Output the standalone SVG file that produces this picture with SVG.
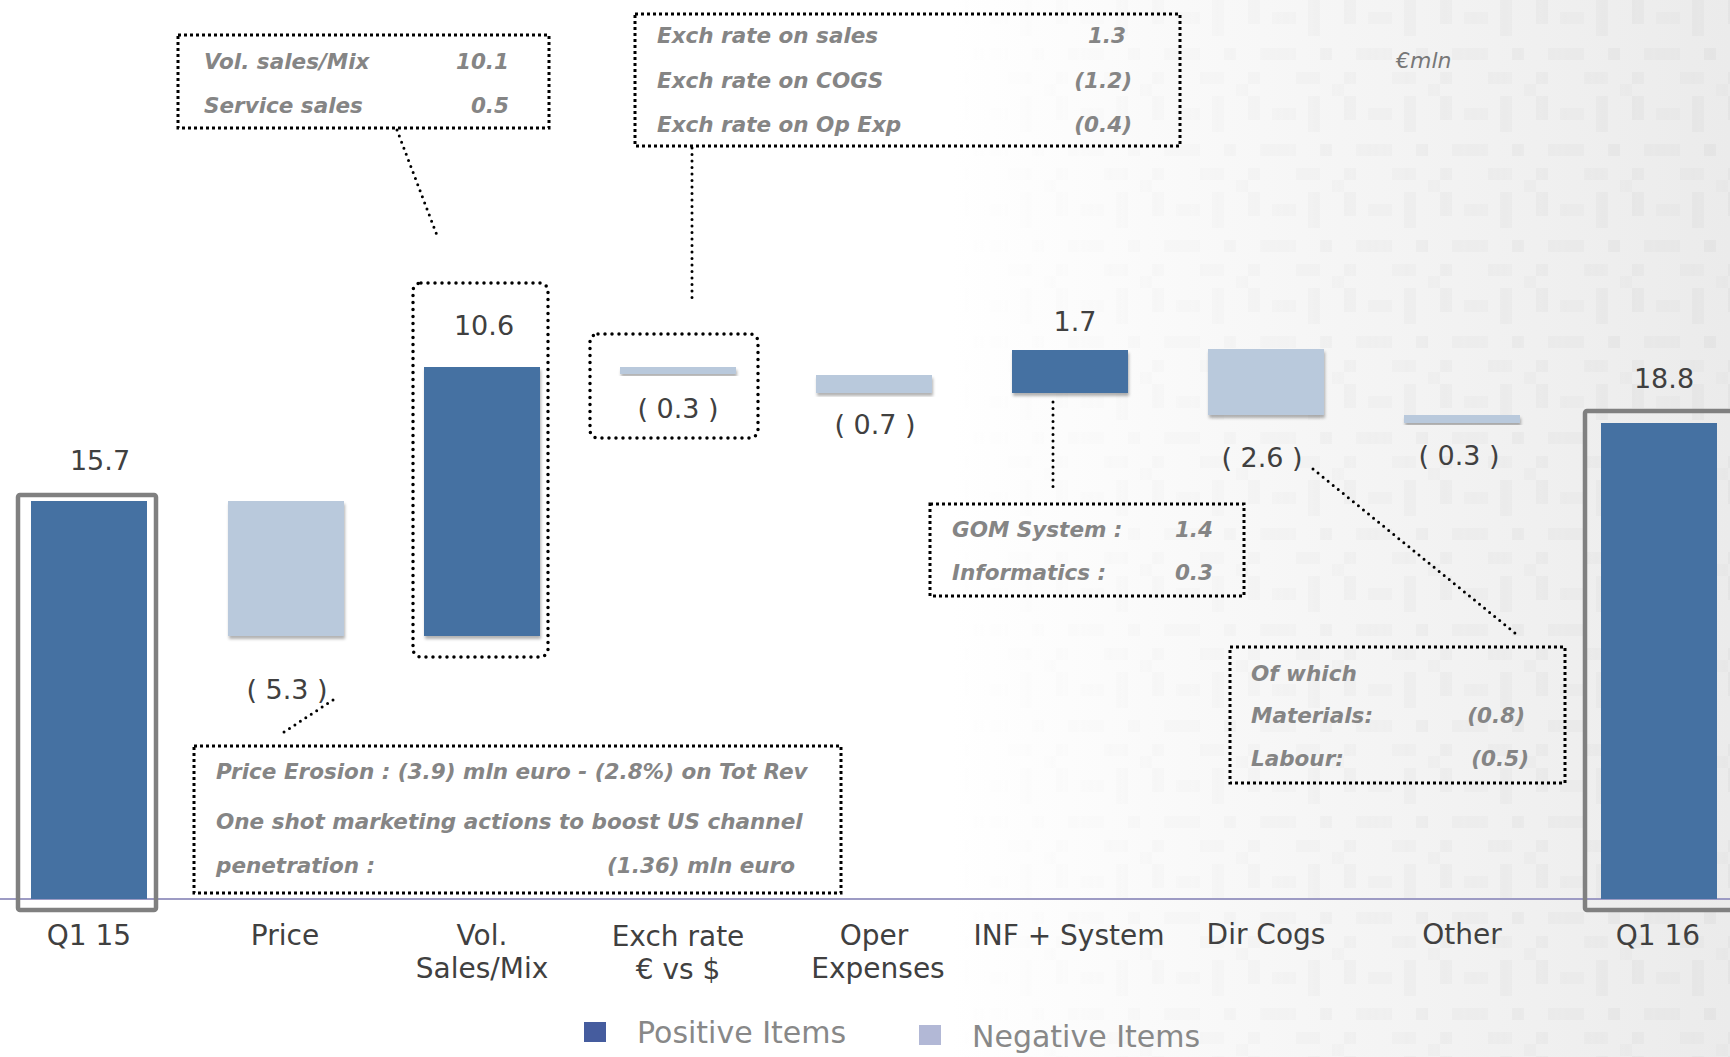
<svg xmlns="http://www.w3.org/2000/svg" width="1730" height="1057" viewBox="0 0 1730 1057">
<style>
.val{font-family:"DejaVu Sans",sans-serif;font-size:27px;fill:#404040;text-anchor:middle}
.cat{font-family:"DejaVu Sans",sans-serif;font-size:28px;fill:#404040;text-anchor:middle}
.note{font-family:"DejaVu Sans",sans-serif;font-size:21.5px;font-style:oblique;font-weight:bold;fill:#858585}
.end{text-anchor:end}
.leg{font-family:"DejaVu Sans",sans-serif;font-size:30px;fill:#888888}
.pos{fill:#4571A2}
.neg{fill:#B9C9DC}
.frame{fill:none;stroke:#808080;stroke-width:4.5}
.sqbox{fill:none;stroke:#000;stroke-width:3;stroke-dasharray:3 3}
.rdbox{fill:none;stroke:#000;stroke-width:3.5;stroke-dasharray:0 7;stroke-linecap:round}
.conn{fill:none;stroke:#000;stroke-width:3;stroke-dasharray:0 6.5;stroke-linecap:round}
</style>
<defs>
<linearGradient id="bg" x1="0" y1="0" x2="1" y2="0">
<stop offset="0" stop-color="#ffffff"/>
<stop offset="0.55" stop-color="#ffffff"/>
<stop offset="1" stop-color="#ebebeb"/>
</linearGradient>
<linearGradient id="fade" x1="0" y1="0" x2="1" y2="0">
<stop offset="0.55" stop-color="#000"/>
<stop offset="1" stop-color="#fff"/>
</linearGradient>
<mask id="pm"><rect width="1730" height="1057" fill="url(#fade)"/></mask>
<pattern id="qr" width="96" height="96" patternUnits="userSpaceOnUse">
<rect x="0" y="0" width="12" height="24" fill="#dcdcdc"/>
<rect x="24" y="12" width="24" height="12" fill="#e2e2e2"/>
<rect x="60" y="0" width="12" height="36" fill="#dedede"/>
<rect x="12" y="48" width="36" height="12" fill="#e0e0e0"/>
<rect x="72" y="48" width="12" height="12" fill="#dadada"/>
<rect x="48" y="72" width="24" height="12" fill="#e1e1e1"/>
<rect x="0" y="72" width="12" height="12" fill="#dddddd"/>
<rect x="84" y="84" width="12" height="12" fill="#e3e3e3"/>
</pattern>
<filter id="sh" x="-10%" y="-10%" width="125%" height="130%">
<feDropShadow dx="1" dy="3" stdDeviation="1.5" flood-color="#000" flood-opacity="0.3"/>
</filter>
</defs>
<rect width="1730" height="1057" fill="url(#bg)"/>
<rect width="1730" height="1057" fill="url(#qr)" mask="url(#pm)" opacity="0.4"/>

<line x1="0" y1="899" x2="1730" y2="899" stroke="#9d9bc4" stroke-width="2"/>

<g id="q1-15">
<rect class="frame" x="18" y="495" width="138" height="415" rx="2"/>
<rect class="pos" x="31" y="501" width="116" height="398"/>
<text class="val" x="100" y="470">15.7</text>
<text class="cat" x="89" y="945">Q1 15</text>
</g>
<g id="price">
<rect class="neg" x="228" y="501" width="116" height="135" filter="url(#sh)"/>
<text class="val" x="287" y="699">( 5.3 )</text>
<text class="cat" x="285" y="945">Price</text>
</g>
<g id="vol-sales-mix">
<rect class="rdbox" x="413" y="283" width="135" height="374" rx="8"/>
<rect class="pos" x="424" y="367" width="116" height="269" filter="url(#sh)"/>
<text class="val" x="484" y="335">10.6</text>
<text class="cat" x="482" y="945">Vol.</text>
<text class="cat" x="482" y="978">Sales/Mix</text>
</g>
<g id="exch-rate">
<rect class="rdbox" x="590" y="334" width="168" height="104" rx="8"/>
<rect class="neg" x="620" y="367" width="116" height="7" filter="url(#sh)"/>
<text class="val" x="678" y="418">( 0.3 )</text>
<text class="cat" x="678" y="946">Exch rate</text>
<text class="cat" x="678" y="979">€ vs $</text>
</g>
<g id="oper-expenses">
<rect class="neg" x="816" y="375" width="116" height="18" filter="url(#sh)"/>
<text class="val" x="875" y="434">( 0.7 )</text>
<text class="cat" x="874" y="945">Oper</text>
<text class="cat" x="878" y="978">Expenses</text>
</g>
<g id="inf-system">
<rect class="pos" x="1012" y="350" width="116" height="43" filter="url(#sh)"/>
<text class="val" x="1075" y="331">1.7</text>
<text class="cat" x="1069" y="945">INF + System</text>
</g>
<g id="dir-cogs">
<rect class="neg" x="1208" y="349" width="116" height="66" filter="url(#sh)"/>
<text class="val" x="1262" y="467">( 2.6 )</text>
<text class="cat" x="1266" y="944">Dir Cogs</text>
</g>
<g id="other">
<rect class="neg" x="1404" y="415" width="116" height="8" filter="url(#sh)"/>
<text class="val" x="1459" y="465">( 0.3 )</text>
<text class="cat" x="1462" y="944">Other</text>
</g>
<g id="q1-16">
<rect class="frame" x="1585" y="411" width="160" height="499" rx="2"/>
<rect class="pos" x="1601" y="423" width="116" height="476"/>
<text class="val" x="1664" y="388">18.8</text>
<text class="cat" x="1658" y="945">Q1 16</text>
</g>

<g id="note-vol">
<rect class="sqbox" x="178" y="35" width="371" height="93"/>
<text class="note" x="204" y="69">Vol. sales/Mix</text>
<text class="note end" x="509" y="69">10.1</text>
<text class="note" x="204" y="113">Service sales</text>
<text class="note end" x="509" y="113">0.5</text>
</g>
<g id="note-exch">
<rect class="sqbox" x="635" y="14" width="545" height="132"/>
<text class="note" x="657" y="43">Exch rate on sales</text>
<text class="note end" x="1126" y="43">1.3</text>
<text class="note" x="657" y="88">Exch rate on COGS</text>
<text class="note end" x="1132" y="88">(1.2)</text>
<text class="note" x="657" y="132">Exch rate on Op Exp</text>
<text class="note end" x="1132" y="132">(0.4)</text>
</g>
<g id="note-price">
<rect class="sqbox" x="194" y="746" width="647" height="147"/>
<text class="note" x="216" y="779">Price Erosion : (3.9) mln euro - (2.8%) on Tot Rev</text>
<text class="note" x="216" y="829">One shot marketing actions to boost US channel</text>
<text class="note" x="216" y="873">penetration :</text>
<text class="note end" x="795" y="873">(1.36) mln euro</text>
</g>
<g id="note-inf">
<rect class="sqbox" x="930" y="504" width="314" height="92"/>
<text class="note" x="952" y="537">GOM System :</text>
<text class="note end" x="1213" y="537">1.4</text>
<text class="note" x="952" y="580">Informatics :</text>
<text class="note end" x="1213" y="580">0.3</text>
</g>
<g id="note-cogs">
<rect class="sqbox" x="1230" y="647" width="335" height="136"/>
<text class="note" x="1251" y="681">Of which</text>
<text class="note" x="1251" y="723">Materials:</text>
<text class="note end" x="1525" y="723">(0.8)</text>
<text class="note" x="1251" y="766">Labour:</text>
<text class="note end" x="1529" y="766">(0.5)</text>
</g>
<g id="unit">
<text x="1396" y="68" style="font-family:'DejaVu Sans',sans-serif;font-size:22px;font-style:oblique;fill:#777">€mln</text>
</g>

<g id="connectors">
<line class="conn" x1="397" y1="130" x2="438" y2="238"/>
<line class="conn" x1="692" y1="148" x2="692" y2="300"/>
<line class="conn" x1="333" y1="700" x2="281" y2="734"/>
<line class="conn" x1="1053" y1="402" x2="1053" y2="488"/>
<line class="conn" x1="1313" y1="469" x2="1515" y2="633"/>
</g>

<g id="legend">
<rect x="584" y="1022" width="22" height="20" fill="#455C9E"/>
<text class="leg" x="637" y="1043">Positive Items</text>
<rect x="919" y="1025" width="22" height="20" fill="#B2B8D6"/>
<text class="leg" x="972" y="1047">Negative Items</text>
</g>
</svg>
